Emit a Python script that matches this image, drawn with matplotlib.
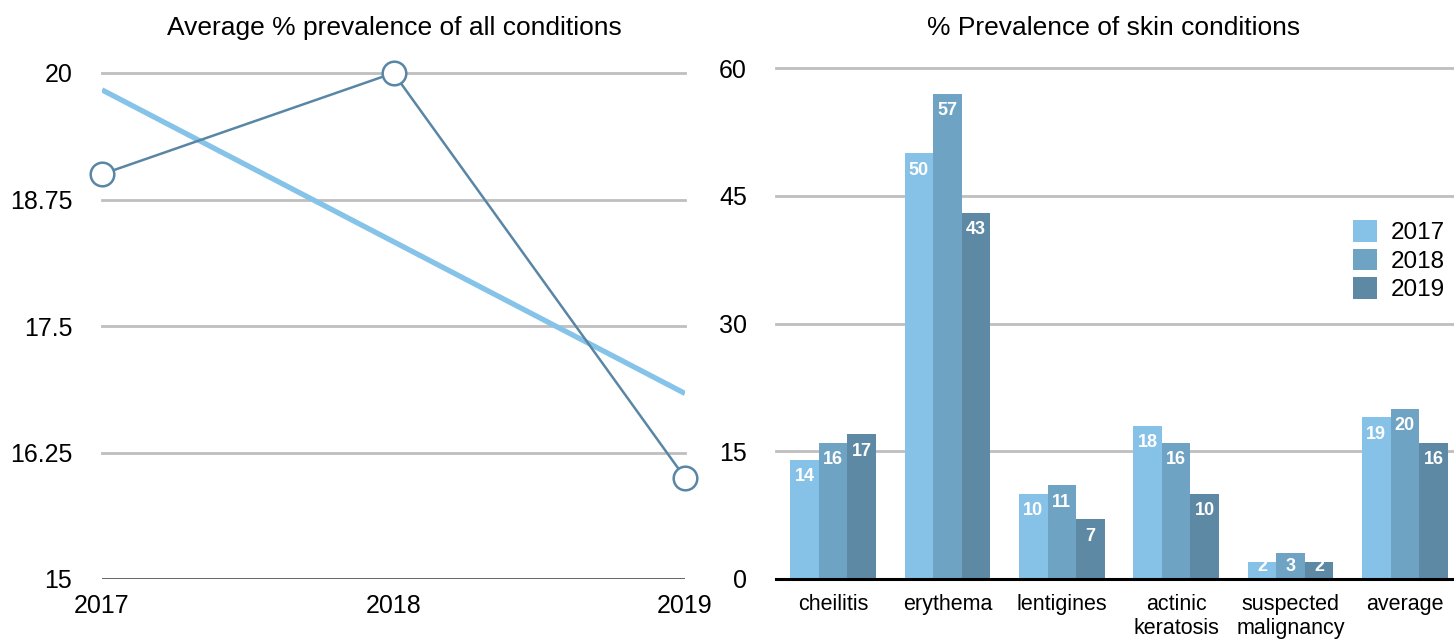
import numpy as np
import matplotlib
matplotlib.use("Agg")
import matplotlib.pyplot as plt

plt.rcParams['font.family'] = ['Liberation Sans', 'DejaVu Sans']

# Left panel: average prevalence across all conditions per year
years = [2017, 2018, 2019]
avg_prevalence = [19, 20, 16]
left_yticks = [15, 16.25, 17.5, 18.75, 20]
left_yticklabels = ["15", "16.25", "17.5", "18.75", "20"]

# Right panel: prevalence per skin condition
conditions = ["cheilitis", "erythema", "lentigines", "actinic\nkeratosis",
              "suspected\nmalignancy", "average"]
series_labels = ["2017", "2018", "2019"]
prev_2017 = [14, 50, 10, 18, 2, 19]
prev_2018 = [16, 57, 11, 16, 3, 20]
prev_2019 = [17, 43, 7, 10, 2, 16]
right_yticks = [0, 15, 30, 45, 60]

bar_colors = ["#86C2E7", "#6FA3C4", "#5E89A5"]
line_color = "#5A86A5"
trend_color = "#86C3E8"
grid_color = "#BFBFBF"

W, H = 1454, 639
fig = plt.figure(figsize=(W / 100, H / 100), dpi=100)

def frac(x0, y0, x1, y1):
    return [x0 / W, 1 - y1 / H, (x1 - x0) / W, (y1 - y0) / H]

# ---------- left: line chart with linear trend ----------
ax1 = fig.add_axes(frac(102, 73, 685, 579))
ax1.set_xlim(years[0], years[-1])
ax1.set_ylim(15, 20)
for v in left_yticks[1:]:
    ax1.axhline(v, color=grid_color, lw=2, zorder=0, clip_on=False)
ax1.axhline(15, color="#4A4A4A", lw=1.2, zorder=0)

coef = np.polyfit(years, avg_prevalence, 1)
trend = np.polyval(coef, years)
ax1.plot(years, trend, color=trend_color, lw=3.8, solid_capstyle="butt", zorder=2)
ax1.plot(years, avg_prevalence, color=line_color, lw=1.8, marker="o",
         markersize=17, markerfacecolor="white", markeredgecolor=line_color,
         markeredgewidth=1.8, clip_on=False, zorder=3)

for s in ax1.spines.values():
    s.set_visible(False)
ax1.set_yticks(left_yticks)
ax1.set_yticklabels(left_yticklabels)
ax1.set_xticks(years)
ax1.set_xticklabels([str(y) for y in years])
ax1.tick_params(axis="y", length=0, pad=21.5, labelsize=18)
ax1.tick_params(axis="x", length=0, pad=11, labelsize=18)
fig.text(394 / W, 1 - 28 / H, "Average % prevalence of all conditions",
         ha="center", va="center", fontsize=19)

# ---------- right: grouped bar chart ----------
ax2 = fig.add_axes(frac(776, 68, 1462, 579))
x = np.arange(len(conditions))
bw = 0.25
series = [prev_2017, prev_2018, prev_2019]
ax2.set_xlim(-0.5, len(conditions) - 0.5)
ax2.set_ylim(0, 60)
for v in right_yticks[1:]:
    ax2.axhline(v, color=grid_color, lw=2, zorder=0, clip_on=False)
px_per_unit = 511 / 60.0
for i, (vals, col, lab) in enumerate(zip(series, bar_colors, series_labels)):
    pos = x + (i - 1) * bw
    ax2.bar(pos, vals, width=bw, color=col, label=lab, zorder=2)
    for xp, v in zip(pos, vals):
        ty = max(v - 17 / px_per_unit, 1.5)
        ax2.text(xp, ty, str(v), ha="center", va="center", color="white",
                 fontsize=13, fontweight="bold", zorder=3)
ax2.axhline(0, color="black", lw=2.2, zorder=4, clip_on=False)

for s in ax2.spines.values():
    s.set_visible(False)
ax2.set_yticks(right_yticks)
ax2.set_yticklabels([str(v) for v in right_yticks])
ax2.set_xticks(x)
ax2.set_xticklabels(conditions, linespacing=1.15)
ax2.tick_params(axis="y", length=0, pad=21, labelsize=18)
ax2.tick_params(axis="x", length=0, pad=11, labelsize=15.5)
fig.text(1114 / W, 1 - 28 / H, "% Prevalence of skin conditions",
         ha="center", va="center", fontsize=19)

leg = ax2.legend(loc="upper left", bbox_to_anchor=((1353 - 776) / 686, 1 - (220 - 68) / 511),
                 frameon=False, fontsize=17.5, handlelength=1.0, handleheight=1.0,
                 handletextpad=0.55, labelspacing=0.18, borderaxespad=0,
                 borderpad=0)

fig.savefig("out.png", dpi=100)
